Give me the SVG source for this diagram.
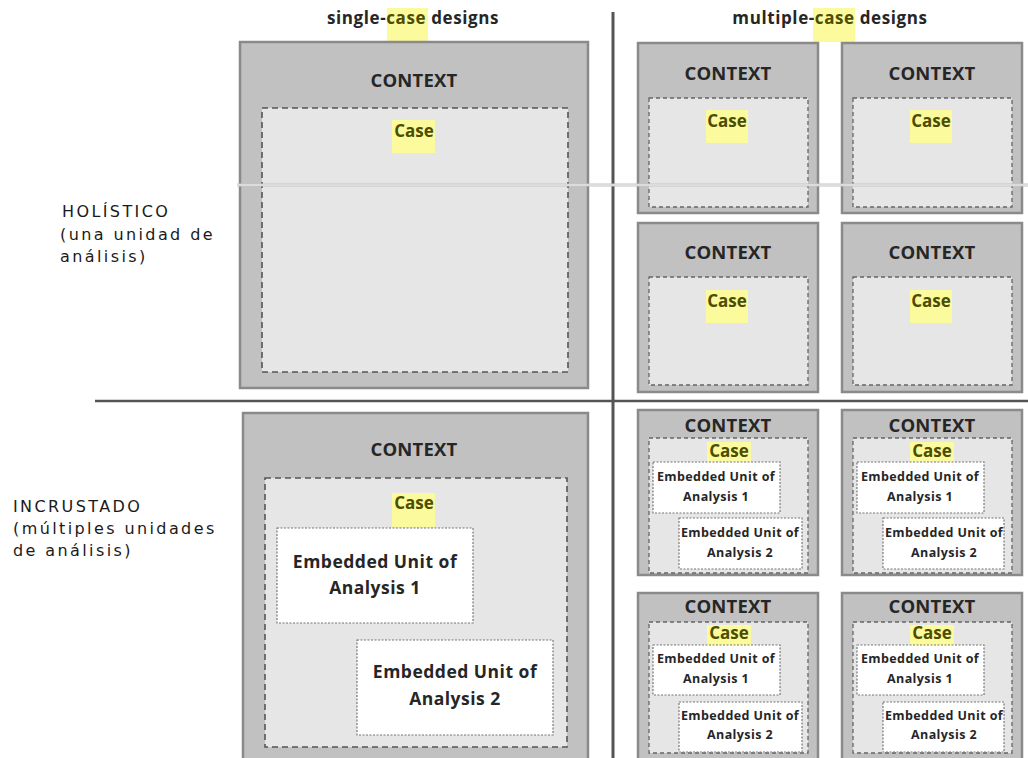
<svg xmlns="http://www.w3.org/2000/svg" width="1028" height="758" viewBox="0 0 1028 758">
<style>
.ctx{fill:#c1c1c1;stroke:#8a8a8a;stroke-width:2.5}
.case{fill:#e6e6e6;stroke:#555;stroke-width:1.6;stroke-dasharray:6 4}
.cases{fill:#e6e6e6;stroke:#666;stroke-width:1.3;stroke-dasharray:4 3}
.emb{fill:#ffffff;stroke:#777;stroke-width:1.2;stroke-dasharray:2 1.5}
.hl{fill:#fbfb9e}
text{font-family:"Open Sans","Liberation Sans",sans-serif;font-weight:bold;text-anchor:middle;fill:#262626}
.t18{font-size:18.5px;letter-spacing:0.2px}
.tc{font-size:17px;fill:#4d4d00}
.t12{font-size:12.5px;letter-spacing:0.4px}
.emb-big{font-size:17.5px;letter-spacing:0.5px}
.hdr{font-size:17px;letter-spacing:0.6px}
.lbl{font-family:"DejaVu Sans","Liberation Sans",sans-serif;font-weight:normal;text-anchor:start;font-size:16px;letter-spacing:2.4px;fill:#1a1a1a}
</style>
<g id="headers">
<rect class="hl" x="387" y="8" width="41" height="34"/>
<text class="hdr" x="413" y="24">single-<tspan fill="#4d4d00">case</tspan> designs</text>
<rect class="hl" x="813" y="8" width="42" height="34"/>
<text class="hdr" x="830" y="24">multiple-<tspan fill="#4d4d00">case</tspan> designs</text>
</g>
<g id="labels">
<text class="lbl" x="62" y="217">HOLÍSTICO</text>
<text class="lbl" x="60" y="240">(una unidad de</text>
<text class="lbl" x="60" y="262">análisis)</text>
<text class="lbl" x="13" y="512">INCRUSTADO</text>
<text class="lbl" x="13" y="534">(múltiples unidades</text>
<text class="lbl" x="13" y="556">de análisis)</text>
</g>
<g id="single-holistic">
<rect class="ctx" x="240" y="42" width="348" height="346"/>
<text class="t18" x="414" y="87">CONTEXT</text>
<rect class="case" x="262" y="108" width="306" height="264"/>
<rect class="hl" x="392" y="120" width="43" height="33"/>
<text class="tc" x="414" y="137">Case</text>
</g>
<g id="single-embedded">
<rect class="ctx" x="243" y="413" width="345" height="352"/>
<text class="t18" x="414" y="456">CONTEXT</text>
<rect class="case" x="265" y="478" width="302" height="269"/>
<rect class="hl" x="392" y="493" width="43" height="34"/>
<text class="tc" x="414" y="509">Case</text>
<rect class="emb" x="277" y="528" width="196" height="95"/>
<text class="emb-big" x="375" y="568">Embedded Unit of</text>
<text class="emb-big" x="375" y="594">Analysis 1</text>
<rect class="emb" x="357" y="640" width="196" height="95"/>
<text class="emb-big" x="455" y="678">Embedded Unit of</text>
<text class="emb-big" x="455" y="705">Analysis 2</text>
</g>
<g id="multi-holistic-1">
<rect class="ctx" x="638" y="43" width="180" height="170"/>
<text class="t18" x="728" y="80">CONTEXT</text>
<rect class="cases" x="649" y="98" width="159" height="109"/>
<rect class="hl" x="706" y="110" width="42" height="33"/>
<text class="tc" x="727" y="127">Case</text>
</g>
<g id="multi-holistic-2">
<rect class="ctx" x="842" y="43" width="180" height="170"/>
<text class="t18" x="932" y="80">CONTEXT</text>
<rect class="cases" x="853" y="98" width="159" height="109"/>
<rect class="hl" x="910" y="110" width="42" height="33"/>
<text class="tc" x="931" y="127">Case</text>
</g>
<g id="multi-holistic-3">
<rect class="ctx" x="638" y="223" width="180" height="169"/>
<text class="t18" x="728" y="259">CONTEXT</text>
<rect class="cases" x="649" y="277" width="159" height="108"/>
<rect class="hl" x="706" y="290" width="42" height="33"/>
<text class="tc" x="727" y="307">Case</text>
</g>
<g id="multi-holistic-4">
<rect class="ctx" x="842" y="223" width="180" height="169"/>
<text class="t18" x="932" y="259">CONTEXT</text>
<rect class="cases" x="853" y="277" width="159" height="108"/>
<rect class="hl" x="910" y="290" width="42" height="33"/>
<text class="tc" x="931" y="307">Case</text>
</g>
<g id="multi-embedded-1">
<rect class="ctx" x="638" y="410" width="180" height="165"/>
<text class="t18" x="728" y="432">CONTEXT</text>
<rect class="cases" x="649" y="438" width="159" height="135"/>
<rect class="hl" x="707" y="442" width="44" height="30"/>
<text class="tc" x="729" y="457">Case</text>
<rect class="emb" x="653" y="462" width="127" height="51"/>
<text class="t12" x="716" y="481">Embedded Unit of</text>
<text class="t12" x="716" y="501">Analysis 1</text>
<rect class="emb" x="679" y="518" width="123" height="51"/>
<text class="t12" x="740" y="537">Embedded Unit of</text>
<text class="t12" x="740" y="557">Analysis 2</text>
</g>
<g id="multi-embedded-2">
<rect class="ctx" x="842" y="410" width="180" height="165"/>
<text class="t18" x="932" y="432">CONTEXT</text>
<rect class="cases" x="853" y="438" width="159" height="135"/>
<rect class="hl" x="910" y="442" width="44" height="30"/>
<text class="tc" x="932" y="457">Case</text>
<rect class="emb" x="857" y="462" width="127" height="51"/>
<text class="t12" x="920" y="481">Embedded Unit of</text>
<text class="t12" x="920" y="501">Analysis 1</text>
<rect class="emb" x="883" y="518" width="121" height="51"/>
<text class="t12" x="944" y="537">Embedded Unit of</text>
<text class="t12" x="944" y="557">Analysis 2</text>
</g>
<g id="multi-embedded-3">
<rect class="ctx" x="638" y="593" width="180" height="172"/>
<text class="t18" x="728" y="613">CONTEXT</text>
<rect class="cases" x="649" y="622" width="159" height="131"/>
<rect class="hl" x="707" y="625" width="44" height="32"/>
<text class="tc" x="729" y="639">Case</text>
<rect class="emb" x="653" y="645" width="127" height="50"/>
<text class="t12" x="716" y="663">Embedded Unit of</text>
<text class="t12" x="716" y="683">Analysis 1</text>
<rect class="emb" x="679" y="702" width="123" height="50"/>
<text class="t12" x="740" y="720">Embedded Unit of</text>
<text class="t12" x="740" y="739">Analysis 2</text>
</g>
<g id="multi-embedded-4">
<rect class="ctx" x="842" y="593" width="180" height="172"/>
<text class="t18" x="932" y="613">CONTEXT</text>
<rect class="cases" x="853" y="622" width="159" height="131"/>
<rect class="hl" x="910" y="625" width="44" height="32"/>
<text class="tc" x="932" y="639">Case</text>
<rect class="emb" x="857" y="645" width="127" height="50"/>
<text class="t12" x="920" y="663">Embedded Unit of</text>
<text class="t12" x="920" y="683">Analysis 1</text>
<rect class="emb" x="883" y="702" width="121" height="50"/>
<text class="t12" x="944" y="720">Embedded Unit of</text>
<text class="t12" x="944" y="739">Analysis 2</text>
</g>
<g id="connectors">
<line x1="613" y1="12" x2="613" y2="758" stroke="#555" stroke-width="3"/>
<line x1="95" y1="401" x2="1028" y2="401" stroke="#555" stroke-width="2.5"/>
<line x1="237" y1="185" x2="1028" y2="185" stroke="#c4c4c4" stroke-width="3"/>
<line x1="237" y1="185" x2="1028" y2="185" stroke="#f4f4f4" stroke-width="1"/>
</g>
</svg>
